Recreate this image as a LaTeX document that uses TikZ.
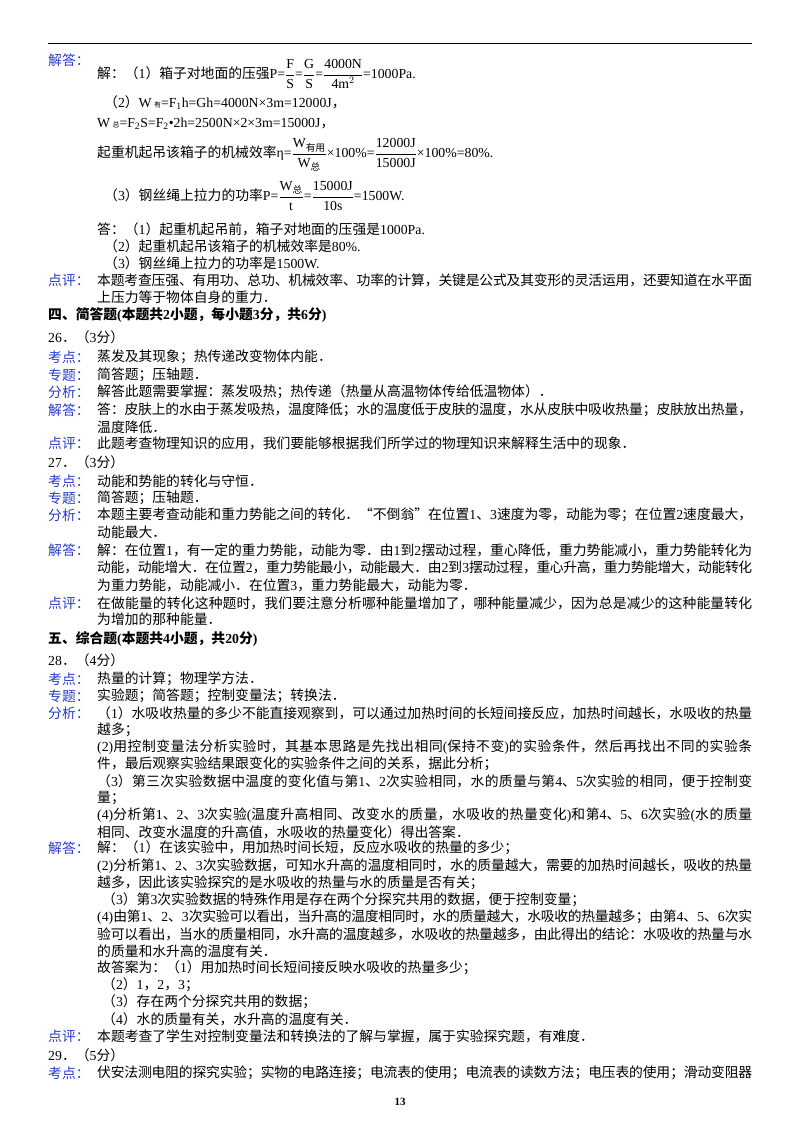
\documentclass[tikz,border=0pt]{standalone}
\usepackage{amsmath}
\usepackage{fontspec}
\setmainfont{Liberation Serif}
\newfontfamily\cjkf{Noto Sans CJK SC}
\newfontfamily\latf{Liberation Serif}
\newcount\cc
\cc="3000 \loop \XeTeXcharclass\cc=1 \advance\cc by 1 \ifnum\cc<"A000 \repeat
\cc="FF00 \loop \XeTeXcharclass\cc=1 \advance\cc by 1 \ifnum\cc<"FFF0 \repeat
\XeTeXcharclass"201C=1 \XeTeXcharclass"201D=1
\XeTeXinterchartokenstate=1
\XeTeXinterchartoks 0 1 {\cjkf}
\XeTeXinterchartoks 4095 1 {\cjkf}
\XeTeXinterchartoks 1 0 {\latf}
\XeTeXinterchartoks 1 4095 {\latf}
\XeTeXlinebreaklocale "zh"
\XeTeXlinebreakskip=0pt plus 3pt minus 0.8pt
\definecolor{lab}{RGB}{40,60,200}
\newcommand\LB[2]{\node[lbl] at (48,#1) {#2};}
\newcommand\TL[3][97]{\node[txt] at (#1,#2) {#3};}
\newcommand\FL[2]{\node[txt] at (97,#1) {\parbox{655pt}{\parindent=0pt\parfillskip=0pt\emergencystretch=20pt\hbadness=10000 #2}};}
\newcommand\HD[2]{\node[txt,font=\fontsize{13.8}{15}\selectfont\bfseries] at (48,#1) {#2};}
\begin{document}
\begin{tikzpicture}[x=1pt,y=-1pt,
  txt/.style={anchor=west,inner sep=0pt,font=\fontsize{13.8}{15}\selectfont},
  lbl/.style={anchor=west,inner sep=0pt,text=lab,font=\fontsize{13.8}{15}\selectfont}]
\useasboundingbox[fill=white] (0,0) rectangle (800,1132);
\draw[line width=1pt] (48,44) -- (752,44);
\LB{60}{解答：}
\TL{74}{解：（1）箱子对地面的压强P=$\dfrac{\mathrm F}{\mathrm S}$=$\dfrac{\mathrm G}{\mathrm S}$=$\dfrac{\mathrm{4000N}}{\mathrm{4m}^2}$=1000Pa.}
\TL[104]{103}{（2）W\,{\scriptsize 有}=F\textsubscript{1}h=Gh=4000N×3m=12000J，}
\TL{124}{W\,{\scriptsize 总}=F\textsubscript{2}S=F\textsubscript{2}•2h=2500N×2×3m=15000J，}
\TL{155}{起重机起吊该箱子的机械效率η=$\dfrac{\mathrm W_{\text{有用}}}{\mathrm W_{\text{总}}}$×100\%=$\dfrac{\mathrm{12000J}}{\mathrm{15000J}}$×100\%=80\%.}
\TL[104]{196}{（3）钢丝绳上拉力的功率P=$\dfrac{\mathrm W_{\text{总}}}{\mathrm t}$=$\dfrac{\mathrm{15000J}}{\mathrm{10s}}$=1500W.}
\TL{229}{答：（1）起重机起吊前，箱子对地面的压强是1000Pa.}
\TL[104]{246}{（2）起重机起吊该箱子的机械效率是80\%.}
\TL[104]{263}{（3）钢丝绳上拉力的功率是1500W.}
\LB{280}{点评：}
\FL{280}{本题考查压强、有用功、总功、机械效率、功率的计算，关键是公式及其变形的灵活运用，还要知道在水平面}
\TL{297}{上压力等于物体自身的重力．}
\HD{315}{四、简答题(本题共2小题，每小题3分，共6分)}
\TL[48]{337}{26．（3分）}
\LB{357}{考点：}\TL{357}{蒸发及其现象；热传递改变物体内能．}
\LB{375}{专题：}\TL{375}{简答题；压轴题．}
\LB{392}{分析：}\TL{392}{解答此题需要掌握：蒸发吸热；热传递（热量从高温物体传给低温物体）．}
\LB{410}{解答：}\FL{410}{答：皮肤上的水由于蒸发吸热，温度降低；水的温度低于皮肤的温度，水从皮肤中吸收热量；皮肤放出热量，}
\TL{427}{温度降低．}
\LB{443}{点评：}\TL{443}{此题考查物理知识的应用，我们要能够根据我们所学过的物理知识来解释生活中的现象．}
\TL[48]{462}{27．（3分）}
\LB{481}{考点：}\TL{481}{动能和势能的转化与守恒．}
\LB{498}{专题：}\TL{498}{简答题；压轴题．}
\LB{515}{分析：}\FL{515}{本题主要考查动能和重力势能之间的转化．“不倒翁”在位置1、3速度为零，动能为零；在位置2速度最大，}
\TL{532}{动能最大．}
\LB{550}{解答：}\FL{550}{解：在位置1，有一定的重力势能，动能为零．由1到2摆动过程，重心降低，重力势能减小，重力势能转化为}
\FL{567}{动能，动能增大．在位置2，重力势能最小，动能最大．由2到3摆动过程，重心升高，重力势能增大，动能转化}
\TL{585}{为重力势能，动能减小．在位置3，重力势能最大，动能为零．}
\LB{603}{点评：}\FL{603}{在做能量的转化这种题时，我们要注意分析哪种能量增加了，哪种能量减少，因为总是减少的这种能量转化}
\TL{619}{为增加的那种能量．}
\HD{639}{五、综合题(本题共4小题，共20分)}
\TL[48]{660}{28．（4分）}
\LB{679}{考点：}\TL{679}{热量的计算；物理学方法．}
\LB{696}{专题：}\TL{696}{实验题；简答题；控制变量法；转换法．}
\LB{713}{分析：}\FL{713}{（1）水吸收热量的多少不能直接观察到，可以通过加热时间的长短间接反应，加热时间越长，水吸收的热量}
\TL{730}{越多；}
\FL{747}{(2)用控制变量法分析实验时，其基本思路是先找出相同(保持不变)的实验条件，然后再找出不同的实验条}
\TL{764}{件，最后观察实验结果跟变化的实验条件之间的关系，据此分析；}
\FL{781}{（3）第三次实验数据中温度的变化值与第1、2次实验相同，水的质量与第4、5次实验的相同，便于控制变}
\TL{798}{量；}
\FL{815}{(4)分析第1、2、3次实验(温度升高相同、改变水的质量，水吸收的热量变化)和第4、5、6次实验(水的质量}
\TL{832}{相同、改变水温度的升高值，水吸收的热量变化）得出答案．}
\LB{848}{解答：}\TL{848}{解：（1）在该实验中，用加热时间长短，反应水吸收的热量的多少；}
\FL{866}{(2)分析第1、2、3次实验数据，可知水升高的温度相同时，水的质量越大，需要的加热时间越长，吸收的热量}
\TL{883}{越多，因此该实验探究的是水吸收的热量与水的质量是否有关；}
\TL[102]{900}{（3）第3次实验数据的特殊作用是存在两个分探究共用的数据，便于控制变量；}
\FL{917}{(4)由第1、2、3次实验可以看出，当升高的温度相同时，水的质量越大，水吸收的热量越多；由第4、5、6次实}
\FL{934}{验可以看出，当水的质量相同，水升高的温度越多，水吸收的热量越多，由此得出的结论：水吸收的热量与水}
\TL{951}{的质量和水升高的温度有关．}
\TL{968}{故答案为：（1）用加热时间长短间接反映水吸收的热量多少；}
\TL[102]{985}{（2）1，2，3；}
\TL[102]{1002}{（3）存在两个分探究共用的数据；}
\TL[102]{1019}{（4）水的质量有关，水升高的温度有关．}
\LB{1036}{点评：}\TL{1036}{本题考查了学生对控制变量法和转换法的了解与掌握，属于实验探究题，有难度．}
\TL[48]{1055}{29．（5分）}
\LB{1073}{考点：}\FL{1073}{伏安法测电阻的探究实验；实物的电路连接；电流表的使用；电流表的读数方法；电压表的使用；滑动变阻器}
\node[txt,anchor=center,font=\fontsize{11}{12}\selectfont\bfseries] at (400,1102) {13};
\end{tikzpicture}
\end{document}
